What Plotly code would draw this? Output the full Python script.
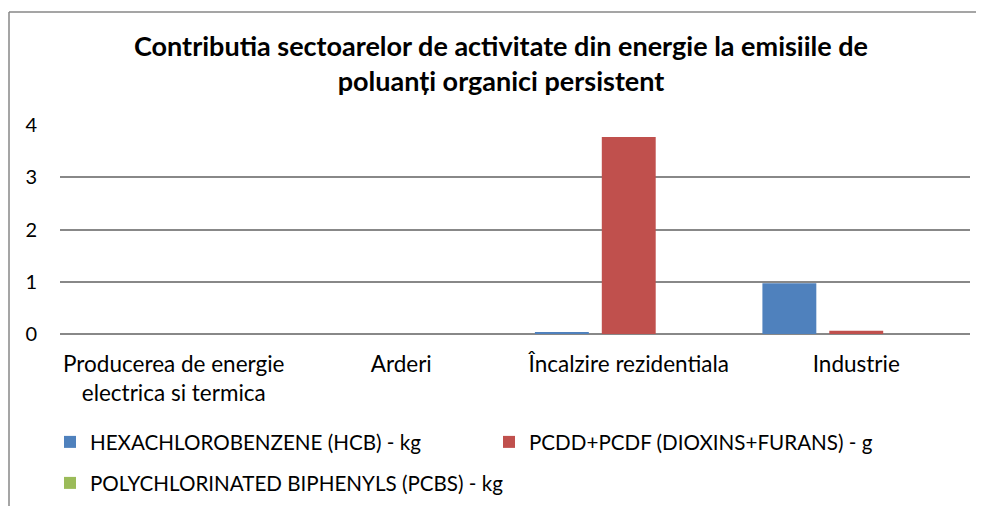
import plotly.graph_objects as go

categories = ["Producerea de energie<br>electrica si termica", "Arderi", "Încalzire rezidentiala", "Industrie"]
hcb_kg = [0.0, 0.0, 0.02, 0.97]
pcdd_pcdf_g = [0.0, 0.0, 3.77, 0.06]
pcbs_kg = [0.0, 0.0, 0.0, 0.0]
series_names = ["HEXACHLOROBENZENE (HCB) - kg", "PCDD+PCDF (DIOXINS+FURANS) - g", "POLYCHLORINATED BIPHENYLS (PCBS) - kg"]
y_ticks = [0, 1, 2, 3, 4]

title_text = "Contributia sectoarelor de activitate din energie la emisiile de<br>poluanți organici persistent"

FONT = "Lato"
colors = ["#4F81BD", "#C0504D", "#9BBB59"]

W, H = 984, 506
L, R, T, B = 52, 22, 117, 180
PW, PH = W - L - R, H - T - B

fig = go.Figure()
for vals, name, c, lg in zip([hcb_kg, pcdd_pcdf_g, pcbs_kg], series_names, colors,
                             ["legend", "legend2", "legend3"]):
    fig.add_trace(go.Bar(x=categories, y=vals, name=name, marker_color=c,
                         marker_line=dict(width=0), legend=lg))

leg_common = dict(orientation="h", xref="container", yref="container",
                  xanchor="left", yanchor="middle",
                  font=dict(family=FONT, size=20.6), bgcolor="rgba(0,0,0,0)")

fig.update_layout(
    width=W, height=H,
    margin=dict(l=L, r=R, t=T, b=B, autoexpand=False),
    paper_bgcolor="white", plot_bgcolor="white",
    font=dict(family=FONT, color="#000000", size=20),
    title=dict(text="<b>" + title_text + "</b>", x=493 / W, xanchor="center",
               y=1 - 48 / H, yanchor="middle", yref="container",
               font=dict(family=FONT, size=27, color="#000000")),
    barmode="group", bargap=0.118, bargroupgap=0.194,
    showlegend=True,
    legend=dict(x=42 / W, y=1 - 434 / H, **leg_common),
    legend2=dict(x=481 / W, y=1 - 434 / H, **leg_common),
    legend3=dict(x=42 / W, y=1 - 475 / H, **leg_common),
)

fig.update_xaxes(showgrid=False, showline=False, ticks="", tickfont=dict(size=22.5),
                 ticklabelstandoff=14, fixedrange=True)
fig.update_yaxes(range=[0, 4], tickvals=y_ticks, showgrid=True, gridcolor="#888888",
                 gridwidth=1.5, zeroline=True, zerolinecolor="#888888", zerolinewidth=1.5,
                 showline=False, ticks="", ticklabelstandoff=22, tickfont=dict(size=20))

# chart-area border (top and left)
bx, by = 1, 4
fig.add_shape(type="line", xref="paper", yref="paper",
              x0=(bx - L) / PW, x1=(W - L) / PW, y0=(T + PH - by) / PH, y1=(T + PH - by) / PH,
              line=dict(color="#878787", width=1.5))
fig.add_shape(type="line", xref="paper", yref="paper",
              x0=(bx - L) / PW, x1=(bx - L) / PW, y0=(T + PH - by) / PH, y1=-B / PH,
              line=dict(color="#878787", width=1.5))

fig.write_html("out.html")
